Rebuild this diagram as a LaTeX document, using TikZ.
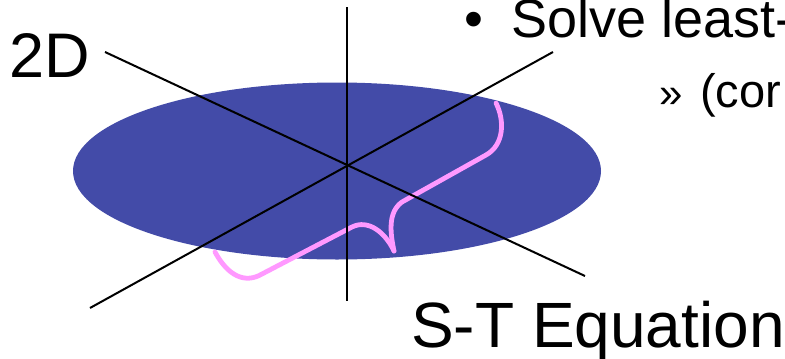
\documentclass[tikz,border=0pt]{standalone}
\usepackage{fontspec}
\setmainfont{Liberation Sans}
\definecolor{dia}{RGB}{67,75,168}
\definecolor{hong}{RGB}{255,153,255}

\begin{document}
\begin{tikzpicture}[x=1pt, y=-1pt,
        % Kiểu dáng chung
        truc/.style={line width=2pt, draw=black},
        ngoac/.style={line width=4.8pt, draw=hong, line cap=round, line join=round},
        chu/.style={inner sep=0pt, anchor=base west, font=\fontsize{#1}{#1}\selectfont}
    ]
        \clip (0,0) rectangle (785,359);

        % Đĩa 2D
        \coordinate (tam) at (337,171);
        \fill[dia] (tam) ellipse [x radius=264, y radius=88.5];

        % Dấu ngoặc
        \draw[ngoac] (215,252) .. controls (228,276) and (245,284) .. (262,274)
            -- (352,227) .. controls (368,219) and (385,232) .. (394,251);
        \draw[ngoac] (394,251) .. controls (390,232) and (388,212) .. (402,202)
            -- (486,155) .. controls (504,145) and (505,121) .. (496,103);

        % Các trục
        \coordinate (dinh) at (347,7);
        \coordinate (day) at (347,301);
        \coordinate (tt) at (105,52);
        \coordinate (dp) at (585,276);
        \coordinate (dt) at (90,308);
        \coordinate (tp) at (553,52);
        \draw[truc] (dinh) -- (day);
        \draw[truc] (tt) -- (dp);
        \draw[truc] (dt) -- (tp);

        % Chữ
        \node[chu=63] (hai) at (9,77) {2D};
        \node[chu=54] (cham) at (464,37) {•};
        \node[chu=54] (giai) at (511,37) {Solve least-};
        \node[chu=42] (mui) at (659,107) {»};
        \node[chu=47] (ngoac) at (700,107) {(cor};
        \node[chu=64] (pt) at (411,347) {S-T Equation};

    \end{tikzpicture}
\end{document}
